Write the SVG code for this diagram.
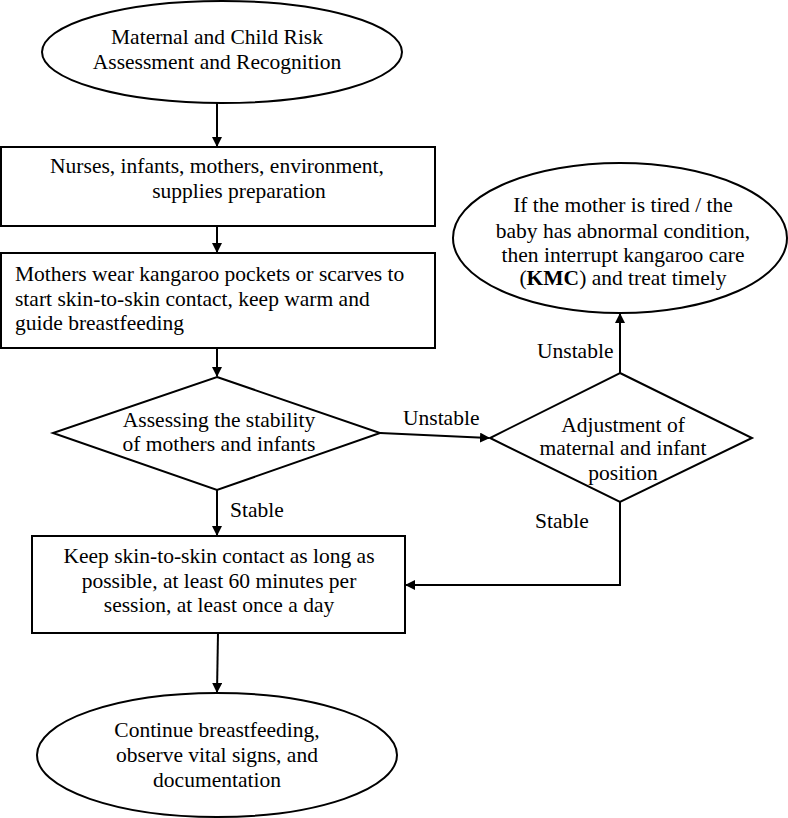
<svg xmlns="http://www.w3.org/2000/svg" width="788" height="818" viewBox="0 0 788 818">
<style>
.s{fill:#fff;stroke:#000;stroke-width:2}
.t{font-family:'Liberation Serif','DejaVu Serif',serif;font-size:21.5px;fill:#000}
.c{text-anchor:middle}
.l{fill:none;stroke:#000;stroke-width:2}
</style>
<defs>
<marker id="a" markerWidth="10" markerHeight="10" refX="9" refY="5" orient="auto" markerUnits="userSpaceOnUse">
<path d="M0,0 L10,5 L0,10 Z" fill="#000"/>
</marker>
</defs>
<rect width="788" height="818" fill="#fff"/>
<g id="connectors">
<line class="l" x1="217" y1="103" x2="217" y2="146" marker-end="url(#a)"/>
<line class="l" x1="217" y1="226" x2="217" y2="252" marker-end="url(#a)"/>
<line class="l" x1="217" y1="348" x2="217" y2="376" marker-end="url(#a)"/>
<line class="l" x1="380" y1="433" x2="489" y2="438" marker-end="url(#a)"/>
<line class="l" x1="620" y1="373" x2="620" y2="314" marker-end="url(#a)"/>
<polyline class="l" points="620,502 620,585 406,585" marker-end="url(#a)"/>
<line class="l" x1="217" y1="490" x2="217" y2="535" marker-end="url(#a)"/>
<line class="l" x1="218" y1="633" x2="217" y2="692" marker-end="url(#a)"/>
<text class="t" x="403" y="425">Unstable</text>
<text class="t" x="537" y="358">Unstable</text>
<text class="t" x="230" y="517">Stable</text>
<text class="t" x="535" y="528">Stable</text>
</g>
<g id="n1">
<ellipse class="s" cx="222" cy="52" rx="180" ry="51"/>
<text class="t c" x="217" y="44">Maternal and Child Risk</text>
<text class="t c" x="217" y="69">Assessment and Recognition</text>
</g>
<g id="n2">
<rect class="s" x="1" y="147" width="434" height="79"/>
<text class="t c" x="217" y="173">Nurses, infants, mothers, environment,</text>
<text class="t c" x="239" y="198">supplies preparation</text>
</g>
<g id="n3">
<rect class="s" x="1" y="253" width="434" height="95"/>
<text class="t" x="15" y="281">Mothers wear kangaroo pockets or scarves to</text>
<text class="t" x="15" y="306">start skin-to-skin contact, keep warm and</text>
<text class="t" x="15" y="330">guide breastfeeding</text>
</g>
<g id="n4">
<polygon class="s" points="217,377 380,433 217,490 53,433"/>
<text class="t c" x="219" y="427">Assessing the stability</text>
<text class="t c" x="219" y="451">of mothers and infants</text>
</g>
<g id="n5">
<polygon class="s" points="620,373 752,438 620,502 490,438"/>
<text class="t c" x="623" y="432">Adjustment of</text>
<text class="t c" x="623" y="455">maternal and infant</text>
<text class="t c" x="623" y="480">position</text>
</g>
<g id="n6">
<ellipse class="s" cx="620" cy="238" rx="167" ry="75"/>
<text class="t c" x="623" y="212">If the mother is tired / the</text>
<text class="t c" x="623" y="238">baby has abnormal condition,</text>
<text class="t c" x="623" y="262">then interrupt kangaroo care</text>
<text class="t c" x="623" y="285">(<tspan font-weight="bold">KMC</tspan>) and treat timely</text>
</g>
<g id="n7">
<rect class="s" x="32" y="536" width="373" height="97"/>
<text class="t c" x="219" y="563">Keep skin-to-skin contact as long as</text>
<text class="t c" x="219" y="588">possible, at least 60 minutes per</text>
<text class="t c" x="219" y="612">session, at least once a day</text>
</g>
<g id="n8">
<ellipse class="s" cx="217" cy="755" rx="180" ry="62"/>
<text class="t c" x="217" y="737">Continue breastfeeding,</text>
<text class="t c" x="217" y="762">observe vital signs, and</text>
<text class="t c" x="217" y="787">documentation</text>
</g>
</svg>
